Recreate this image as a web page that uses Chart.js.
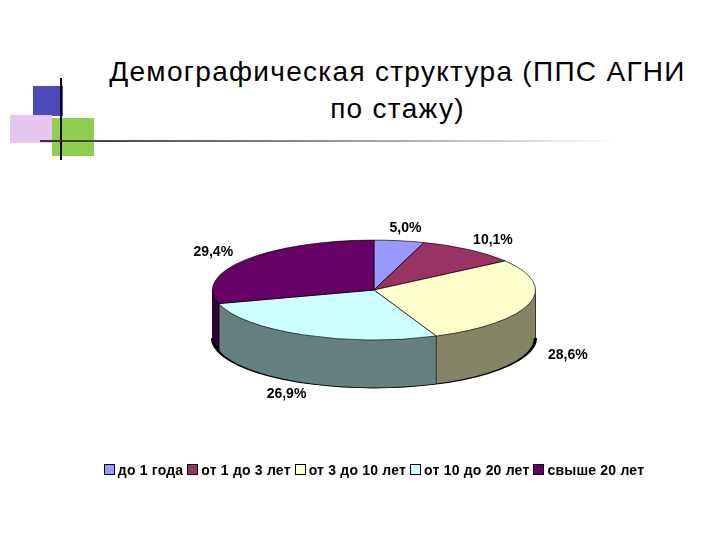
<!DOCTYPE html>
<html><head><meta charset="utf-8">
<script src="https://cdn.jsdelivr.net/npm/chart.js@4"></script>
<style>
body{margin:0;width:720px;height:540px;background:#fff;position:relative;overflow:hidden;font-family:"Liberation Sans",Arial,sans-serif}
.t{position:absolute;left:90px;width:615px;text-align:center;font-size:28px;letter-spacing:1.3px;line-height:37px;top:53px;color:#000}
.d{position:absolute}
#legend{position:absolute;top:462px;left:0;width:752px;text-align:center;font-weight:bold;font-size:14px;letter-spacing:0.2px}
#legend span.sw{display:inline-block;width:9px;height:9px;border:1px solid #000;margin:0 3px 0 0;vertical-align:0px}
#legend span.it{margin-right:4px}
</style></head><body>
<div class="d" style="left:33px;top:86px;width:30px;height:30px;background:#4a4ab8"></div>
<div class="d" style="left:10px;top:115px;width:42px;height:28px;background:#e6c6ee"></div>
<div class="d" style="left:52px;top:118px;width:42px;height:38px;background:#8ed04e"></div>
<div class="d" style="left:60px;top:78px;width:2px;height:82px;background:#000"></div>
<div class="d" style="left:40px;top:140px;width:580px;height:2px;background:linear-gradient(90deg,#333,#bbb 70%,#fff)"></div>
<div class="t">Демографическая структура (ППС АГНИ<br>по стажу)</div>
<div class="d" style="left:132px;top:48px;width:484px;height:484px"><canvas id="c"></canvas></div>
<div id="legend"></div>
<script>
const categories=["до 1 года","от 1 до 3 лет","от 3 до 10 лет","от 10 до 20 лет","свыше 20 лет"];
const values=[5.0,10.1,28.6,26.9,29.4];
const labels=["5,0%","10,1%","28,6%","26,9%","29,4%"];
const topColors=["#9999ff","#993366","#ffffcc","#ccffff","#660066"];
const sideColors=["#4d4d80","#4d1a33","#858566","#668080","#330033"];
const K=0.309, DEPTH=48;
const pie3d={id:'pie3d',
beforeDatasetsDraw(ch){const ctx=ch.ctx,arcs=ch.getDatasetMeta(0).data;const a0=arcs[0];const cx=a0.x,cy=a0.y;
 ctx.save();ctx.translate(cx,cy);ctx.scale(1,K);ctx.translate(-cx,-cy);
 for(let d=DEPTH;d>=1;d--){arcs.forEach((a,i)=>{ctx.beginPath();ctx.moveTo(a.x,a.y+d/K);ctx.arc(a.x,a.y+d/K,a.outerRadius,a.startAngle,a.endAngle);ctx.closePath();ctx.fillStyle=sideColors[i];ctx.fill();});}
 const r=a0.outerRadius;ctx.lineWidth=1/K;ctx.strokeStyle='#000';
 ctx.beginPath();ctx.arc(cx,cy+DEPTH/K,r,0,Math.PI);ctx.stroke();
 ctx.lineWidth=1;
 ctx.beginPath();ctx.moveTo(cx+r,cy);ctx.lineTo(cx+r,cy+DEPTH/K);ctx.moveTo(cx-r,cy);ctx.lineTo(cx-r,cy+DEPTH/K);
 arcs.forEach(a=>{const s=a.startAngle;if(Math.sin(s)>0){const x=cx+Math.cos(s)*r,y=cy+Math.sin(s)*r;ctx.moveTo(x,y);ctx.lineTo(x,y+DEPTH/K);}});
 ctx.stroke();},
afterDatasetsDraw(ch){const ctx=ch.ctx;ctx.restore();const arcs=ch.getDatasetMeta(0).data;
 ctx.save();ctx.font='bold 14px "Liberation Sans",Arial';ctx.fillStyle='#000';ctx.textAlign='center';ctx.textBaseline='middle';
 arcs.forEach((a,i)=>{const m=(a.startAngle+a.endAngle)/2;const R=a.outerRadius+40;const s=Math.sin(m);
  ctx.fillText(labels[i],a.x+Math.cos(m)*R,a.y+s*R*K+(s>0?DEPTH:0));});ctx.restore();}
};
new Chart(document.getElementById('c'),{type:'pie',data:{labels:categories,datasets:[{data:values,backgroundColor:topColors,borderColor:'#000',borderWidth:1}]},
options:{responsive:true,maintainAspectRatio:false,animation:false,plugins:{legend:{display:false},tooltip:{enabled:false}},layout:{padding:80}},plugins:[pie3d]});
document.getElementById('legend').innerHTML=categories.map((c,i)=>`<span class="it"><span class="sw" style="background:${topColors[i]}"></span>${c}</span>`).join('');
</script></body></html>
